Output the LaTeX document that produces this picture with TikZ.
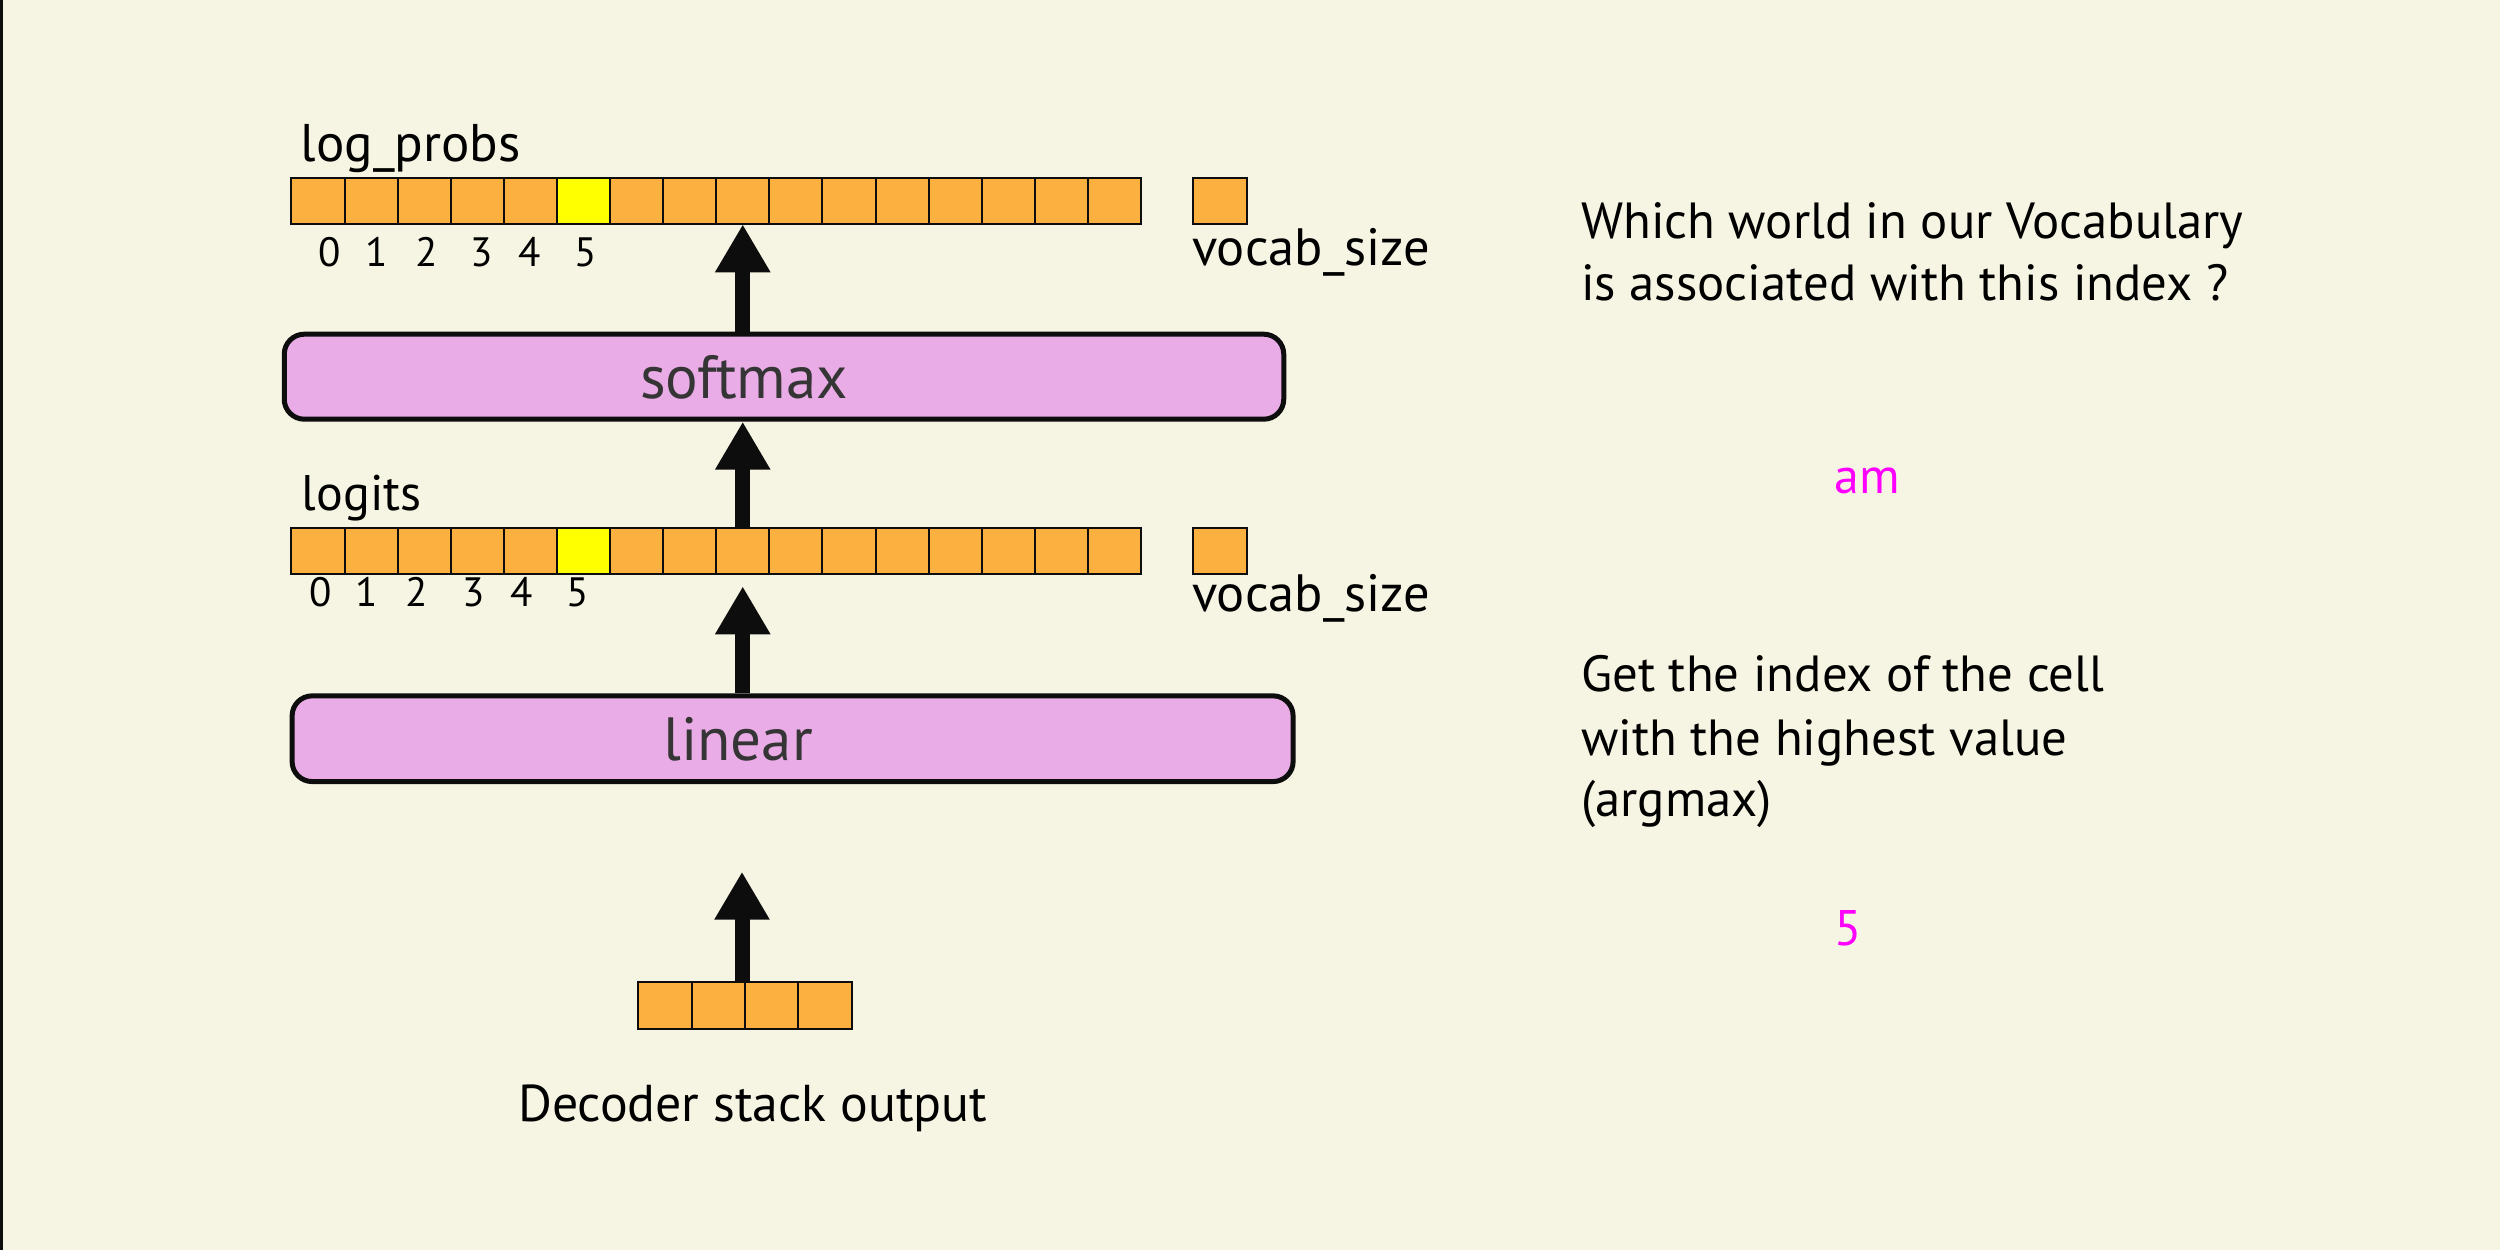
\documentclass[tikz,border=0pt]{standalone}
\usepackage{fontspec}
\setmainfont{PT Sans}
\usetikzlibrary{arrows.meta}
\definecolor{bg}{HTML}{F6F5E3}
\definecolor{cellor}{HTML}{FBB040}
\definecolor{cellye}{HTML}{FFFF00}
\definecolor{boxpink}{HTML}{EAACE6}
\definecolor{mag}{HTML}{FF00FF}
\definecolor{boxtxt}{HTML}{353535}
\definecolor{ink}{HTML}{0D0D0D}
\begin{document}
\begin{tikzpicture}[x=1pt,y=-1pt,
  cell/.style={draw=ink,line width=2pt,fill=cellor,minimum width=53.1pt,minimum height=46.6pt,inner sep=0pt,outer sep=0pt},
  hicell/.style={cell,fill=cellye},
  dcell/.style={cell,minimum width=53.35pt,minimum height=47.3pt},
  layerbox/.style={draw=ink,line width=5pt,fill=boxpink,rounded corners=20pt,inner sep=0pt},
  bigarrow/.style={line width=15pt,draw=ink,fill=ink,-{Triangle[length=48pt,width=52pt]}},
  lbl/.style={font=\fontsize{51}{60}\selectfont,anchor=base west,inner sep=0pt},
  txt/.style={font=\fontsize{50.8}{60}\selectfont,anchor=base west,inner sep=0pt},
  idx/.style={font=\fontsize{41}{48}\selectfont,anchor=base,inner sep=0pt},
  boxlbl/.style={font=\fontsize{61}{70}\selectfont,text=boxtxt,anchor=base,inner sep=0pt},
  pick/.style={font=\fontsize{50}{60}\selectfont,text=mag,anchor=base west,inner sep=0pt}
]
\useasboundingbox (0,0) rectangle (2500,1250);
\fill[bg] (0,0) rectangle (2500,1250);
\draw[ink,line width=2.5pt] (1.25,0) -- (1.25,1250);

% log_probs row
\foreach \i in {0,...,15}{
  \ifnum\i=5
    \node[hicell] (lp\i) at ({317.95+53.1*\i},201) {};
  \else
    \node[cell] (lp\i) at ({317.95+53.1*\i},201) {};
  \fi
}
\node[cell] (lpv) at (1220,201) {};
\node[lbl,font=\fontsize{53}{60}\selectfont] (lplbl) at (300.6,161.7) {log\_probs};
\node[lbl,font=\fontsize{52.5}{60}\selectfont] (lpvs) at (1192,265) {vocab\_size};
\node[idx] (lpi0) at (330,266) {0};
\node[idx] (lpi1) at (377,266) {1};
\node[idx] (lpi2) at (427,266) {2};
\node[idx] (lpi3) at (482,266) {3};
\node[idx] (lpi4) at (530,266) {4};
\node[idx] (lpi5) at (586,266) {5};

% softmax
\node[layerbox,minimum width=999.5pt,minimum height=85pt] (softmax) at (784,376.7) {};
\node[boxlbl] (softmaxlbl) at (744,398.3) {softmax};

% logits row
\foreach \i in {0,...,15}{
  \ifnum\i=5
    \node[hicell] (lg\i) at ({317.95+53.1*\i},551) {};
  \else
    \node[cell] (lg\i) at ({317.95+53.1*\i},551) {};
  \fi
}
\node[cell] (lgv) at (1220,551) {};
\node[lbl,font=\fontsize{50}{60}\selectfont] (lglbl) at (301.6,510) {logits};
\node[lbl,font=\fontsize{52.5}{60}\selectfont] (lgvs) at (1192,611.7) {vocab\_size};
\node[idx] (lgi0) at (321,606.7) {0};
\node[idx] (lgi1) at (367,606.7) {1};
\node[idx] (lgi2) at (417,606.7) {2};
\node[idx] (lgi3) at (474,606.7) {3};
\node[idx] (lgi4) at (522,606.7) {4};
\node[idx] (lgi5) at (578,606.7) {5};

% linear
\node[layerbox,minimum width=1001pt,minimum height=85.7pt] (linear) at (792.6,738.7) {};
\node[boxlbl] (linearlbl) at (738,760) {linear};

% decoder output
\foreach \i in {0,...,3}{
  \node[dcell] (d\i) at ({664.98+53.35*\i},1005.4) {};
}
\node[font=\fontsize{51.8}{62}\selectfont,anchor=base west,inner sep=0pt] (declbl) at (518,1121.7) {Decoder stack output};
\coordinate (dtip) at (742,871.7);

% arrows
\draw[bigarrow] (softmax.north -| lp8) -- (lp8.south);
\draw[bigarrow] (lg8.north) -- (softmax.south -| lg8);
\draw[bigarrow] (linear.north -| lg8) -- ([yshift=-12pt]lg8.south);
\draw[bigarrow] (dtip |- d1.north) -- (dtip);

% right-hand texts
\node[txt] (q1) at (1581,238.3) {Which world in our Vocabulary};
\node[txt] (q2) at (1581,300) {is associated with this index ?};
\node[pick] (am) at (1834.6,493) {am};
\node[txt] (g1) at (1581,691.7) {Get the index of the cell};
\node[txt] (g2) at (1581,755) {with the highest value};
\node[txt] (g3) at (1581,816.7) {(argmax)};
\node[pick] (five) at (1834.6,945) {5};
\end{tikzpicture}
\end{document}
